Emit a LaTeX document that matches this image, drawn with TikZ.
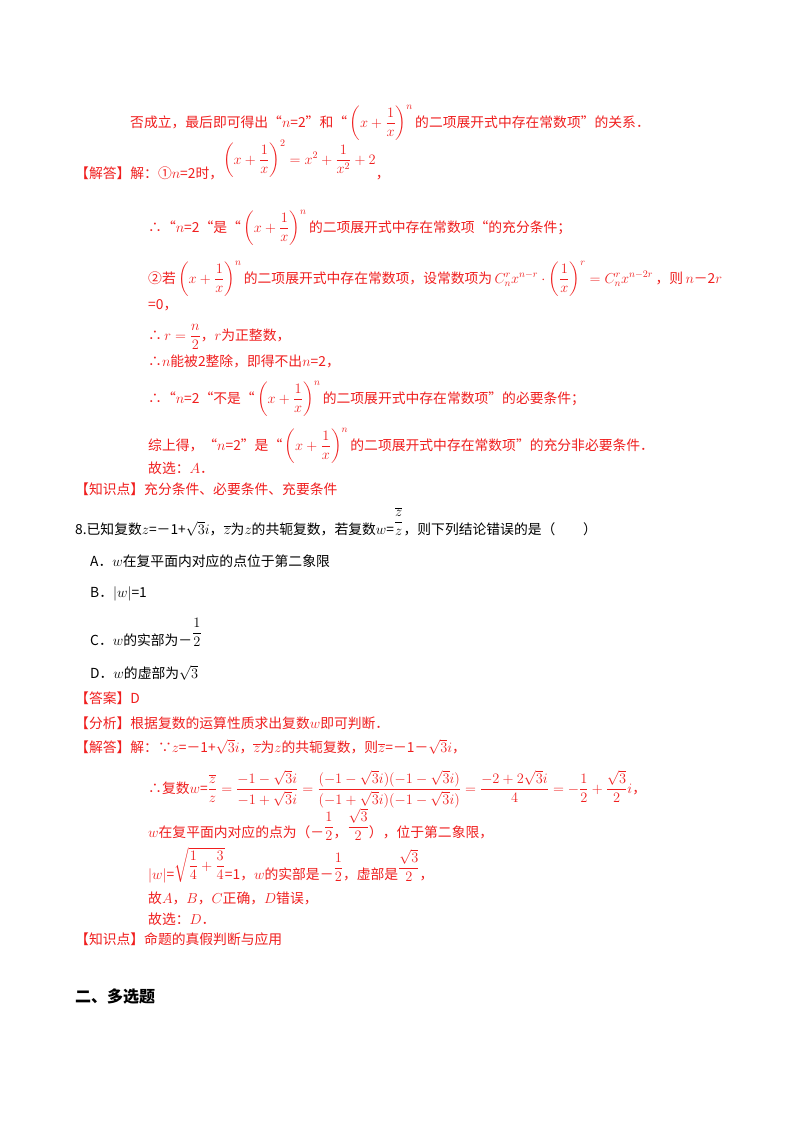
\documentclass[tikz,border=0pt]{standalone}
\usepackage{fontspec}
\usepackage{amsmath}
\setmainfont{Noto Sans CJK SC}
\definecolor{rd}{RGB}{240,30,30}
\tikzset{t/.style={anchor=base west,inner sep=0pt,font=\fontsize{13.8}{16}\selectfont,text=rd},
 k/.style={t,text=black}}
\newcommand{\xx}{\left(x+\dfrac{1}{x}\right)^{n}}
\begin{document}
\begin{tikzpicture}[x=1pt,y=-1pt]
\useasboundingbox[fill=white] (0,0) rectangle (800,1132);
\node[t] (l1) at (130,127) {否成立，最后即可得出“$n$=2”和“\,$\xx$\,的二项展开式中存在常数项”的关系．};
\node[t] (l2) at (75,178) {【解答】解：①$n$=2时，\raisebox{14pt}{$\left(x+\dfrac{1}{x}\right)^{2}=x^{2}+\dfrac{1}{x^{2}}+2$}，};
\node[t] (l3) at (148,232) {∴“$n$=2“是“\,$\xx$\,的二项展开式中存在常数项“的充分条件；};
\node[t] (l4) at (148,283) {②若\,$\xx$\,的二项展开式中存在常数项，设常数项为\,$C_n^r x^{n-r}\cdot\left(\dfrac{1}{x}\right)^{r}=C_n^r x^{n-2r}$\,，则$\,n$－2$r$};
\node[t] (l5) at (148,309) {=0，};
\node[t] (l6) at (148,340) {∴\,$r=\dfrac{n}{2}$，$r$为正整数，};
\node[t] (l7) at (148,366) {∴$n$能被2整除，即得不出$n$=2，};
\node[t] (l8) at (148,403) {∴“$n$=2“不是“\,$\xx$\,的二项展开式中存在常数项”的必要条件；};
\node[t] (l9) at (148,450) {综上得，“$n$=2”是“\,$\xx$\,的二项展开式中存在常数项”的充分非必要条件．};
\node[t] (l10) at (148,473) {故选：$A$．};
\node[t] (l11) at (75,494) {【知识点】充分条件、必要条件、充要条件};
\node[k] (q8) at (75,534) {8.已知复数$z$=－1+$\sqrt{3}i$，$\overline{z}$为$z$的共轭复数，若复数$w$=\raisebox{8pt}{$\dfrac{\overline{z}}{z}$}，则下列结论错误的是（\qquad）};
\node[k] (qa) at (90,566) {A．$w$在复平面内对应的点位于第二象限};
\node[k] (qb) at (90,597) {B．$|w|$=1};
\node[k] (qc) at (90,645) {C．$w$的实部为－\raisebox{8pt}{$\dfrac{1}{2}$}};
\node[k] (qd) at (90,678) {D．$w$的虚部为$\sqrt{3}$};
\node[t] (an) at (75,703) {【答案】D};
\node[t] (fx) at (75,728) {【分析】根据复数的运算性质求出复数$w$即可判断．};
\node[t] (jd) at (75,752) {【解答】解：∵$z$=－1+$\sqrt{3}i$，$\overline{z}$为$z$的共轭复数，则$\overline{z}$=－1－$\sqrt{3}i$，};
\node[t] (w1) at (148,793) {∴复数$w$=$\dfrac{\overline{z}}{z}=\dfrac{-1-\sqrt{3}i}{-1+\sqrt{3}i}=\dfrac{(-1-\sqrt{3}i)(-1-\sqrt{3}i)}{(-1+\sqrt{3}i)(-1-\sqrt{3}i)}=\dfrac{-2+2\sqrt{3}i}{4}=-\dfrac{1}{2}+\dfrac{\sqrt{3}}{2}i$，};
\node[t] (w2) at (148,837) {$w$在复平面内对应的点为（－\raisebox{6pt}{$\dfrac{1}{2}$}，\raisebox{6pt}{$\dfrac{\sqrt{3}}{2}$}），位于第二象限，};
\node[t] (w3) at (148,879) {$|w|$=\raisebox{9pt}{$\sqrt{\dfrac{1}{4}+\dfrac{3}{4}}$}=1，$w$的实部是－\raisebox{7pt}{$\dfrac{1}{2}$}，虚部是\raisebox{7pt}{$\dfrac{\sqrt{3}}{2}$}，};
\node[t] (w4) at (148,903) {故$A$，$B$，$C$正确，$D$错误，};
\node[t] (w5) at (148,924) {故选：$D$．};
\node[t] (zs) at (75,944) {【知识点】命题的真假判断与应用};
\node[k,font=\fontsize{16}{19}\selectfont\bfseries] (h2) at (75,1002) {二、多选题};
\end{tikzpicture}
\end{document}
